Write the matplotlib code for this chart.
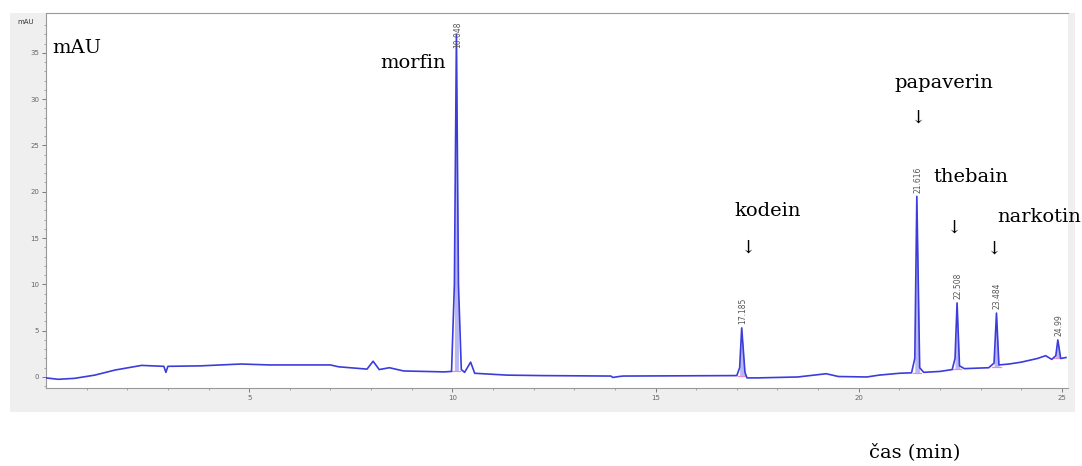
import numpy as np
import matplotlib.pyplot as plt
from matplotlib.patches import Rectangle

# chromatogram trace (time in min, absorbance in mAU)
trace_time = [0.0, 0.3, 0.7, 1.2, 1.7, 2.35, 2.9, 2.95, 3.0, 3.8, 4.8, 5.5, 7.0, 7.2,
              7.9, 8.05, 8.2, 8.45, 8.8, 9.8, 9.98, 10.05, 10.1, 10.15, 10.22, 10.3,
              10.45, 10.55, 11.35, 12.2, 13.9, 13.95, 14.1, 14.2, 17.0, 17.07, 17.12,
              17.2, 17.25, 17.5, 18.5, 19.2, 19.5, 20.2, 20.5, 21.0, 21.3, 21.38,
              21.43, 21.5, 21.6, 22.0, 22.3, 22.37, 22.42, 22.48, 22.6, 23.2, 23.33,
              23.39, 23.45, 23.7, 24.0, 24.4, 24.6, 24.75, 24.85, 24.9, 24.97, 25.1]
trace_mau = [-0.1, -0.25, -0.15, 0.2, 0.75, 1.25, 1.15, 0.5, 1.15, 1.2, 1.4, 1.3, 1.3, 1.1,
             0.85, 1.7, 0.8, 1.0, 0.65, 0.55, 0.6, 10.0, 37.0, 10.0, 0.8, 0.5,
             1.6, 0.4, 0.2, 0.15, 0.1, -0.05, 0.05, 0.1, 0.15, 1.0, 5.3,
             0.5, -0.1, -0.1, 0.0, 0.35, 0.05, 0.0, 0.2, 0.4, 0.45, 2.0,
             19.5, 1.0, 0.5, 0.6, 0.8, 2.0, 8.0, 1.2, 0.9, 1.0, 1.5,
             6.9, 1.3, 1.4, 1.6, 2.0, 2.3, 1.9, 2.3, 4.0, 2.0, 2.1]

# integrated peaks
peak_time = [10.1, 17.12, 21.43, 22.42, 23.39, 24.9]
peak_mau = [37.0, 5.3, 19.5, 8.0, 6.9, 4.0]
peak_base = [0.6, 0.15, 0.45, 0.85, 1.1, 2.0]
peak_rt = ['10.048', '17.185', '21.616', '22.508', '23.484', '24.99']

# compound names and where they were written
names = ['morfin', 'kodein', 'papaverin', 'thebain', 'narkotin']
name_x = [9.83, 17.76, 22.09, 22.76, 24.43]
name_y = [33.9, 17.9, 31.7, 21.6, 17.3]
name_ha = ['right', 'center', 'center', 'center', 'center']
arrow_x = [17.27, 21.45, 22.34, 23.32]
arrow_y = [14.0, 28.0, 16.1, 13.9]

serif = ['DejaVu Serif']

fig = plt.figure(figsize=(10.82, 4.66), dpi=100)
fig.patches.append(Rectangle((10 / 1082, 1 - 412 / 466), 1065 / 1082, 399 / 466,
                             transform=fig.transFigure, facecolor='#efefef',
                             edgecolor='none', zorder=-5))
ax = fig.add_axes([46 / 1082, 1 - 388 / 466, 1022 / 1082, 375 / 466])
ax.set_facecolor('white')

t = np.array(trace_time)
y = np.array(trace_mau)
for pt, pb in zip(peak_time, peak_base):
    m = (t > pt - 0.12) & (t < pt + 0.12)
    ax.fill_between(t[m], pb, y[m], color='#b8b8f4', lw=0, zorder=1)
    ax.plot([pt - 0.1, pt + 0.1], [pb, pb], color='#f08ad0', lw=0.9, zorder=2)
ax.plot(t, y, color='#3c3cdc', lw=1.2, zorder=3)

for pt, pm, lab in zip(peak_time, peak_mau, peak_rt):
    yy = min(pm + 0.4, 35.5)
    ax.text(pt + 0.02, yy, lab, rotation=90, fontsize=5.5, color='#555555',
            ha='center', va='bottom', clip_on=False)

for nm, nx, ny, nh in zip(names, name_x, name_y, name_ha):
    ax.text(nx, ny, nm, fontsize=14, family=serif, ha=nh, va='center', clip_on=False)
for ax_, ay_ in zip(arrow_x, arrow_y):
    ax.text(ax_, ay_, '↓', fontsize=13, family=serif, ha='center', va='center')

ax.text(0.15, 35.5, 'mAU', fontsize=14, family=serif, ha='left', va='center')
fig.text(26 / 1082, 1 - 22 / 466, 'mAU', fontsize=5, color='#333333',
         ha='center', va='center')
fig.text(915 / 1082, 1 - 452 / 466, 'čas (min)', fontsize=14, family=serif,
         ha='center', va='center')

ax.set_xlim(0.0, 25.15)
ax.set_ylim(-1.19, 39.3)
ax.set_xticks([5, 10, 15, 20, 25])
ax.set_xticks(np.arange(1, 26, 1), minor=True)
ax.set_yticks([0, 5, 10, 15, 20, 25, 30, 35])
ax.set_yticks(np.arange(-1, 39, 1), minor=True)
ax.tick_params(labelsize=5, colors='#666666', length=3, width=0.6, pad=2)
ax.tick_params(which='minor', length=1.5, width=0.5, colors='#888888')
for s in ['left', 'bottom', 'top']:
    ax.spines[s].set_color('#999999')
    ax.spines[s].set_linewidth(0.8)
ax.spines['right'].set_visible(False)

plt.savefig('out.png', dpi=100)
